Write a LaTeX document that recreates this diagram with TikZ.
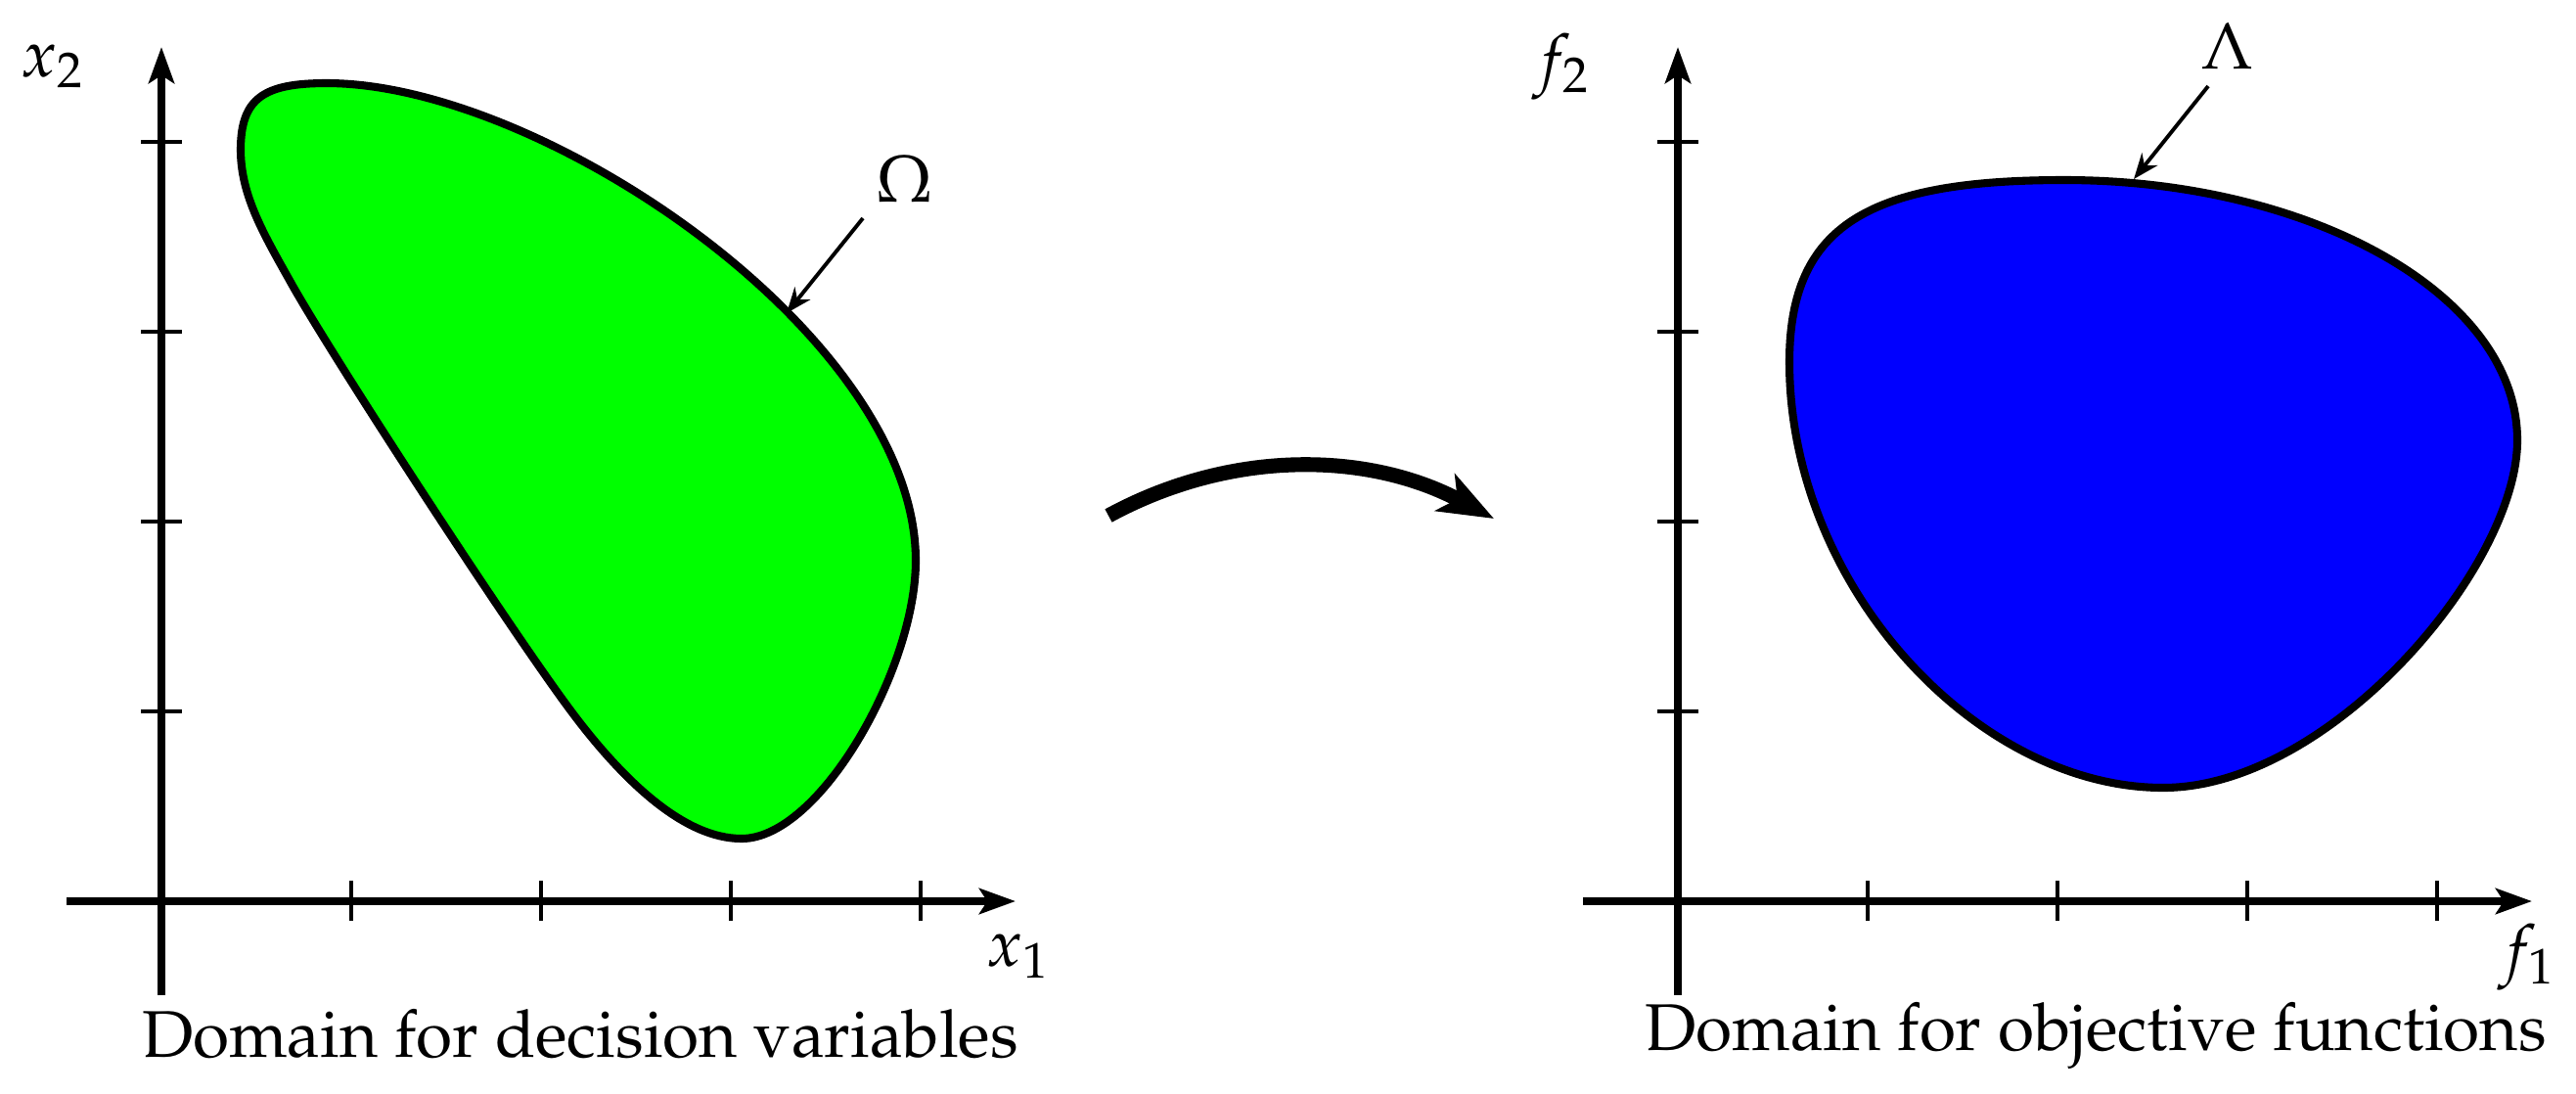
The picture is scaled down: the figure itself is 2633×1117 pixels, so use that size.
\documentclass[tikz,border=0pt]{standalone}
\usepackage[T1]{fontenc}
\usepackage{mathpazo}
\usetikzlibrary{arrows.meta,calc}
\begin{document}
\begin{tikzpicture}[x=0.01cm,y=-0.01cm,
  font=\fontsize{19.2}{23}\selectfont,
  axisline/.style={line width=2.35pt,-{Stealth[length=10.5pt,width=7.4pt,inset=2.3pt]}},
  tickmark/.style={line width=1.2pt},
  region/.style={line width=2.3pt,draw=black},
  pointer/.style={line width=1.1pt,-{Stealth[length=7.4pt,width=5.8pt,inset=2.4pt]}},
  maparrow/.style={line width=4.3pt,-{Stealth[length=16pt,width=12pt,inset=4pt]}},
  lbl/.style={inner sep=0pt,anchor=base west},
  captext/.style={inner sep=0pt,anchor=base}]
\useasboundingbox (0,0) rectangle (2633,1117);
\definecolor{regiongreen}{RGB}{0,255,0}
\definecolor{regionblue}{RGB}{0,0,255}

% ---------- left panel ----------
\coordinate (LO) at (165,921);
\coordinate (Lybot) at (165,1017);
\coordinate (Lytop) at (165,48);
\coordinate (Lxl) at (68,921);
\coordinate (Lxr) at (1038,921);

\draw[region,fill=regiongreen]
  (334,85) .. controls (554,85) and (936,343) .. (936,573)
  .. controls (936,683) and (838,857) .. (758,857)
  .. controls (700,857) and (640,800) .. (590,735)
  .. controls (530,657) and (340,365) .. (298,290)
  .. controls (270,240) and (246,200) .. (246,153)
  .. controls (246,100) and (270,85) .. cycle;

\draw[axisline] (Lybot) -- (Lytop);
\draw[axisline] (Lxl) -- (Lxr);
\foreach \t in {1,2,3,4}{
  \draw[tickmark] ($(LO)+(194*\t,-21)$) -- ($(LO)+(194*\t,20)$);
  \draw[tickmark] ($(LO)+(-21,-194*\t)$) -- ($(LO)+(21,-194*\t)$);
}
\node[lbl] (xtwo) at (21,78) {$x_2$};
\node[lbl] (xone) at (1008,987) {$x_1$};
\node[captext] (omega) at (925,206) {$\Omega$};
\coordinate (omtail) at (882,223);
\coordinate (omtip) at (804,320);
\draw[pointer] (omtail) -- (omtip);
\node[captext] (capL) at (593,1080) {Domain for decision variables};

% ---------- mapping arrow ----------
\coordinate (mapstart) at (1133,527);
\coordinate (mapend) at (1527,530);
\draw[maparrow] (mapstart) .. controls (1260,458) and (1400,462) .. (mapend);

% ---------- right panel ----------
\coordinate (RO) at (1715,921);
\coordinate (Rybot) at (1715,1017);
\coordinate (Rytop) at (1715,48);
\coordinate (Rxl) at (1618,921);
\coordinate (Rxr) at (2588,921);

\draw[region,fill=regionblue]
  (2110,184) .. controls (2360,184) and (2573,300) .. (2573,450)
  .. controls (2573,580) and (2381,805) .. (2211,805)
  .. controls (2021,805) and (1829,600) .. (1829,370)
  .. controls (1829,230) and (1910,184) .. cycle;

\draw[axisline] (Rybot) -- (Rytop);
\draw[axisline] (Rxl) -- (Rxr);
\foreach \t in {1,2,3,4}{
  \draw[tickmark] ($(RO)+(194*\t,-21)$) -- ($(RO)+(194*\t,20)$);
  \draw[tickmark] ($(RO)+(-21,-194*\t)$) -- ($(RO)+(21,-194*\t)$);
}
\node[lbl] (ftwo) at (1566,83) {$f_2$};
\node[lbl] (fone) at (2553,993) {$f_1$};
\node[captext] (lambda) at (2277,70) {$\Lambda$};
\coordinate (lamtail) at (2257,88);
\coordinate (lamtip) at (2181,183);
\draw[pointer] (lamtail) -- (lamtip);
\node[captext] (capR) at (2142,1073) {Domain for objective functions};
\end{tikzpicture}
\end{document}
